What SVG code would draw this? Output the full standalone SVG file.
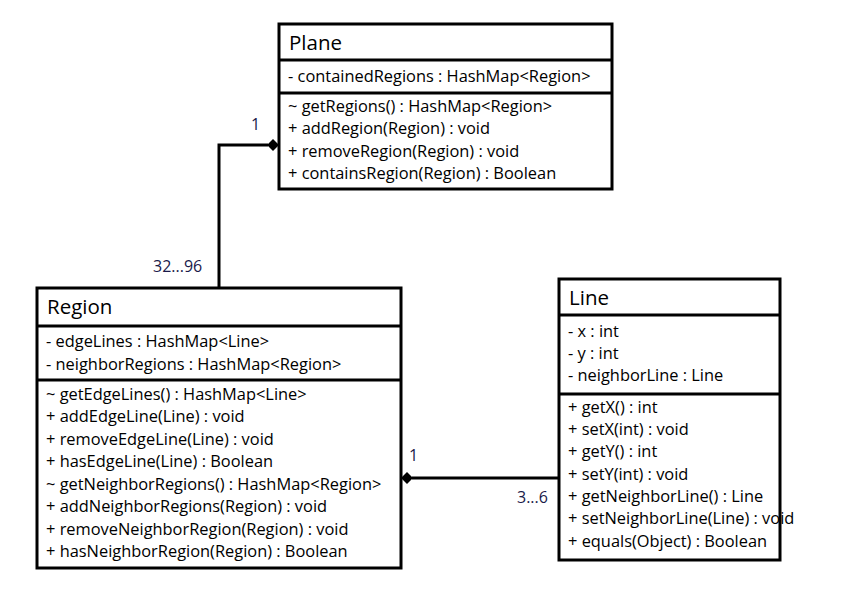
<svg xmlns="http://www.w3.org/2000/svg" width="867" height="599" viewBox="0 0 867 599">
<style>
.box{fill:#fff;stroke:#000;stroke-width:3}
.sep{stroke:#000;stroke-width:3}
.t{font-family:"Open Sans","Liberation Sans",sans-serif;font-size:16.4px;fill:#000}
.h{font-family:"Open Sans","Liberation Sans",sans-serif;font-size:20.5px;fill:#000}
.lbl{font-family:"Open Sans","Liberation Sans",sans-serif;font-size:16px;fill:#1a1a4a}
.c{fill:none;stroke:#000;stroke-width:3}
</style>
<rect width="867" height="599" fill="#fff"/>
<g id="connectors">
<polyline class="c" points="219,288 219,145 268,145"/>
<polygon points="267,145 273,139 279,145 273,151" fill="#000"/>
<line class="c" x1="412" y1="478" x2="559" y2="478"/>
<polygon points="401,478 407,472 413,478 407,484" fill="#000"/>
<text class="lbl" x="251" y="130">1</text>
<text class="lbl" x="153" y="272">32...96</text>
<text class="lbl" x="409" y="461">1</text>
<text class="lbl" x="517" y="503">3...6</text>
</g>
<g id="plane">
<rect class="box" x="279" y="24" width="333" height="165"/>
<line class="sep" x1="279" y1="60" x2="612" y2="60"/>
<line class="sep" x1="279" y1="93" x2="612" y2="93"/>
<text class="h" x="289" y="50">Plane</text>
<text class="t" x="288" y="82">- containedRegions : HashMap&lt;Region&gt;</text>
<text class="t" x="288" y="112">~ getRegions() : HashMap&lt;Region&gt;</text>
<text class="t" x="288" y="134">+ addRegion(Region) : void</text>
<text class="t" x="288" y="157">+ removeRegion(Region) : void</text>
<text class="t" x="288" y="179">+ containsRegion(Region) : Boolean</text>
</g>
<g id="region">
<rect class="box" x="37" y="288" width="364" height="280"/>
<line class="sep" x1="37" y1="326" x2="401" y2="326"/>
<line class="sep" x1="37" y1="380" x2="401" y2="380"/>
<text class="h" x="47" y="314">Region</text>
<text class="t" x="46" y="347">- edgeLines : HashMap&lt;Line&gt;</text>
<text class="t" x="46" y="370">- neighborRegions : HashMap&lt;Region&gt;</text>
<text class="t" x="46" y="400">~ getEdgeLines() : HashMap&lt;Line&gt;</text>
<text class="t" x="46" y="422">+ addEdgeLine(Line) : void</text>
<text class="t" x="46" y="445">+ removeEdgeLine(Line) : void</text>
<text class="t" x="46" y="467">+ hasEdgeLine(Line) : Boolean</text>
<text class="t" x="46" y="490">~ getNeighborRegions() : HashMap&lt;Region&gt;</text>
<text class="t" x="46" y="512">+ addNeighborRegions(Region) : void</text>
<text class="t" x="46" y="535">+ removeNeighborRegion(Region) : void</text>
<text class="t" x="46" y="557">+ hasNeighborRegion(Region) : Boolean</text>
</g>
<g id="line">
<rect class="box" x="559" y="279" width="221" height="281"/>
<line class="sep" x1="559" y1="315" x2="780" y2="315"/>
<line class="sep" x1="559" y1="394" x2="780" y2="394"/>
<text class="h" x="569" y="305">Line</text>
<text class="t" x="568" y="337">- x : int</text>
<text class="t" x="568" y="359">- y : int</text>
<text class="t" x="568" y="381">- neighborLine : Line</text>
<text class="t" x="568" y="413">+ getX() : int</text>
<text class="t" x="568" y="435">+ setX(int) : void</text>
<text class="t" x="568" y="457">+ getY() : int</text>
<text class="t" x="568" y="480">+ setY(int) : void</text>
<text class="t" x="568" y="502">+ getNeighborLine() : Line</text>
<text class="t" x="568" y="524">+ setNeighborLine(Line) : void</text>
<text class="t" x="568" y="547">+ equals(Object) : Boolean</text>
</g>
</svg>
